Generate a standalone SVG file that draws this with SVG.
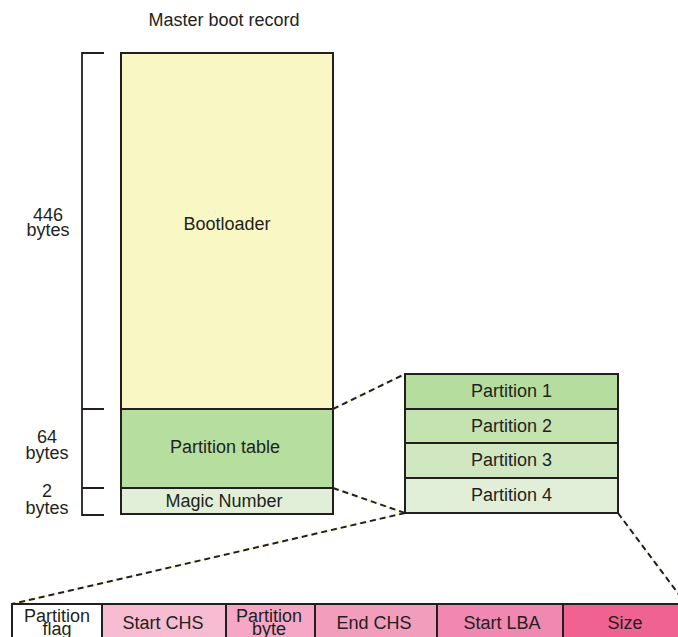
<svg xmlns="http://www.w3.org/2000/svg" width="678" height="637" viewBox="0 0 678 637">
<style>
text{font-family:"Liberation Sans",Arial,Helvetica,sans-serif;font-size:18px;fill:#231f20;text-anchor:middle}
.box{stroke:#231f20;stroke-width:2}
.br{fill:none;stroke:#231f20;stroke-width:1.8}
.dg{fill:none;stroke:#f3f0a8;stroke-width:1}
.dl{fill:none;stroke:#231f20;stroke-width:2;stroke-dasharray:6 4}
</style>
<rect width="678" height="637" fill="#ffffff"/>
<text x="224" y="26">Master boot record</text>
<g id="bracket">
<path class="br" d="M104,53H82V515H104M82,409H104M82,488H104"/>
</g>
<g id="label446"><text x="48" y="221">446</text><text x="48" y="236">bytes</text></g>
<g id="label64"><text x="47" y="443">64</text><text x="47" y="459">bytes</text></g>
<g id="label2"><text x="47" y="497">2</text><text x="47" y="514">bytes</text></g>
<g id="connectors">
<path class="dg" d="M333,409L405,374M333,488L405,513M405,513L12,604M618,513L686,604"/>
<path class="dl" d="M333,409L405,374M333,488L405,513M405,513L12,604M618,513L686,604"/>
</g>
<g id="bootloader"><rect class="box" x="121" y="53" width="212" height="356" fill="#f9f8c5"/><text x="227" y="230">Bootloader</text></g>
<g id="partition-table"><rect class="box" x="121" y="409" width="212" height="79" fill="#b6de9f"/><text x="225" y="453">Partition table</text></g>
<g id="magic-number"><rect class="box" x="121" y="488" width="212" height="26" fill="#e1efd8"/><text x="224" y="507">Magic Number</text></g>
<g id="partition1"><rect class="box" x="405" y="374" width="213" height="35" fill="#b5dd9e"/><text x="511.5" y="397">Partition 1</text></g>
<g id="partition2"><rect class="box" x="405" y="409" width="213" height="34" fill="#c4e3b1"/><text x="511.5" y="432">Partition 2</text></g>
<g id="partition3"><rect class="box" x="405" y="443" width="213" height="35" fill="#d1e7c2"/><text x="511.5" y="466">Partition 3</text></g>
<g id="partition4"><rect class="box" x="405" y="478" width="213" height="35" fill="#e1efd8"/><text x="511.5" y="501">Partition 4</text></g>
<g id="partition-flag"><rect class="box" x="12" y="604" width="90" height="40" fill="#ffffff"/><text x="57" y="622">Partition</text><text x="57" y="635">flag</text></g>
<g id="start-chs"><rect class="box" x="102" y="604" width="124" height="40" fill="#f8bcd2"/><text x="163" y="629">Start CHS</text></g>
<g id="partition-byte"><rect class="box" x="226" y="604" width="89" height="40" fill="#f5a7c5"/><text x="269" y="622">Partition</text><text x="269" y="635">byte</text></g>
<g id="end-chs"><rect class="box" x="315" y="604" width="122" height="40" fill="#f39dbd"/><text x="374" y="629">End CHS</text></g>
<g id="start-lba"><rect class="box" x="437" y="604" width="126" height="40" fill="#f088b1"/><text x="502" y="629">Start LBA</text></g>
<g id="size"><rect class="box" x="563" y="604" width="124" height="40" fill="#f06292"/><text x="625" y="629">Size</text></g>
</svg>
